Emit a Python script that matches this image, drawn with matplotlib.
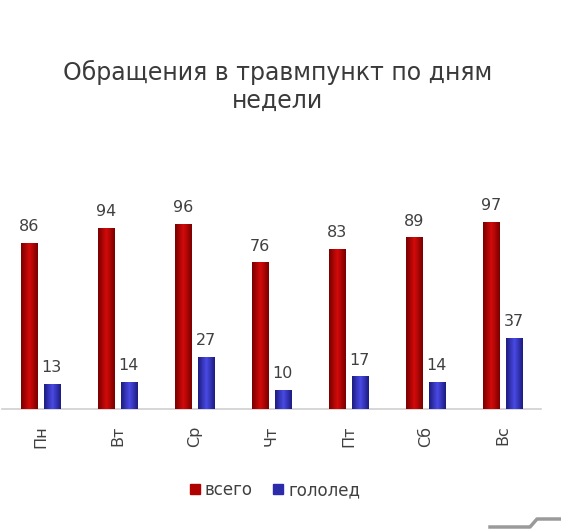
import numpy as np
import matplotlib.pyplot as plt
from matplotlib.colors import LinearSegmentedColormap
from matplotlib.patches import Patch

# data
days = ['Пн', 'Вт', 'Ср', 'Чт', 'Пт', 'Сб', 'Вс']
total = [86, 94, 96, 76, 83, 89, 97]
ice = [13, 14, 27, 10, 17, 14, 37]

W, H = 561, 532
fig = plt.figure(figsize=(W / 100, H / 100), dpi=100)
fig.patch.set_facecolor('white')

# axes placed in pixel terms: baseline at y=409, x from 2 to 541
ax = fig.add_axes([2 / W, 123 / H, 539 / W, 193 / H])

x = np.arange(len(days)) + 0.5
bw = 0.21
off = 0.145

red_cmap = LinearSegmentedColormap.from_list('r', ['#7a0000', '#d40a0a', '#7a0000'])
blue_cmap = LinearSegmentedColormap.from_list('b', ['#1c1c80', '#4a4ae6', '#1c1c80'])

bars_r = ax.bar(x - off, total, width=bw, color='#b00000', zorder=2)
bars_b = ax.bar(x + off, ice, width=bw, color='#3333bb', zorder=2)

# horizontal gradient inside each bar
grad = np.linspace(0, 1, 64).reshape(1, -1)
for bars, cmap in [(bars_r, red_cmap), (bars_b, blue_cmap)]:
    for p in bars:
        x0, y0 = p.get_x(), p.get_y()
        im = ax.imshow(grad, cmap=cmap, aspect='auto', zorder=3,
                       extent=[x0, x0 + p.get_width(), y0, y0 + p.get_height()])
        im.set_clip_path(p)

ax.set_xlim(0, 7)
ax.set_ylim(0, 100)

# value labels
for xi, v in zip(x - off, total):
    ax.text(xi, v + 4.5, str(v), ha='center', va='bottom', fontsize=11.5, color='#404040')
for xi, v in zip(x + off, ice):
    ax.text(xi, v + 4.5, str(v), ha='center', va='bottom', fontsize=11.5, color='#404040')

for s in ['top', 'right', 'left']:
    ax.spines[s].set_visible(False)
ax.spines['bottom'].set_color('#d0d0d0')
ax.spines['bottom'].set_linewidth(1.2)
ax.set_yticks([])
ax.set_xticks(x)
ax.set_xticklabels(days, rotation=90, fontsize=11.5, color='#404040')
ax.tick_params(axis='x', length=0, pad=12)

fig.text(278 / W, 1 - 86 / H, 'Обращения в травмпункт по дням\nнедели',
         ha='center', va='center', fontsize=17, color='#3a3a3a', linespacing=1.2)

# legend
handles = [Patch(color='#b00000', label='всего'), Patch(color='#2c2caa', label='гололед')]
fig.legend(handles=handles, loc='center', bbox_to_anchor=(275 / W, 1 - 490 / H), ncol=2,
           frameon=False, fontsize=12, handlelength=0.6, handleheight=0.6,
           handletextpad=0.3, columnspacing=1.2, labelcolor='#404040')

# grey corner mark bottom right
fig.add_artist(plt.Line2D([490 / W, 530 / W, 537 / W, 561 / W],
                          [1 - 527 / H, 1 - 527 / H, 1 - 519 / H, 1 - 519 / H],
                          color='#9a9a9a', linewidth=2.5))

fig.savefig('out.png', dpi=100)
